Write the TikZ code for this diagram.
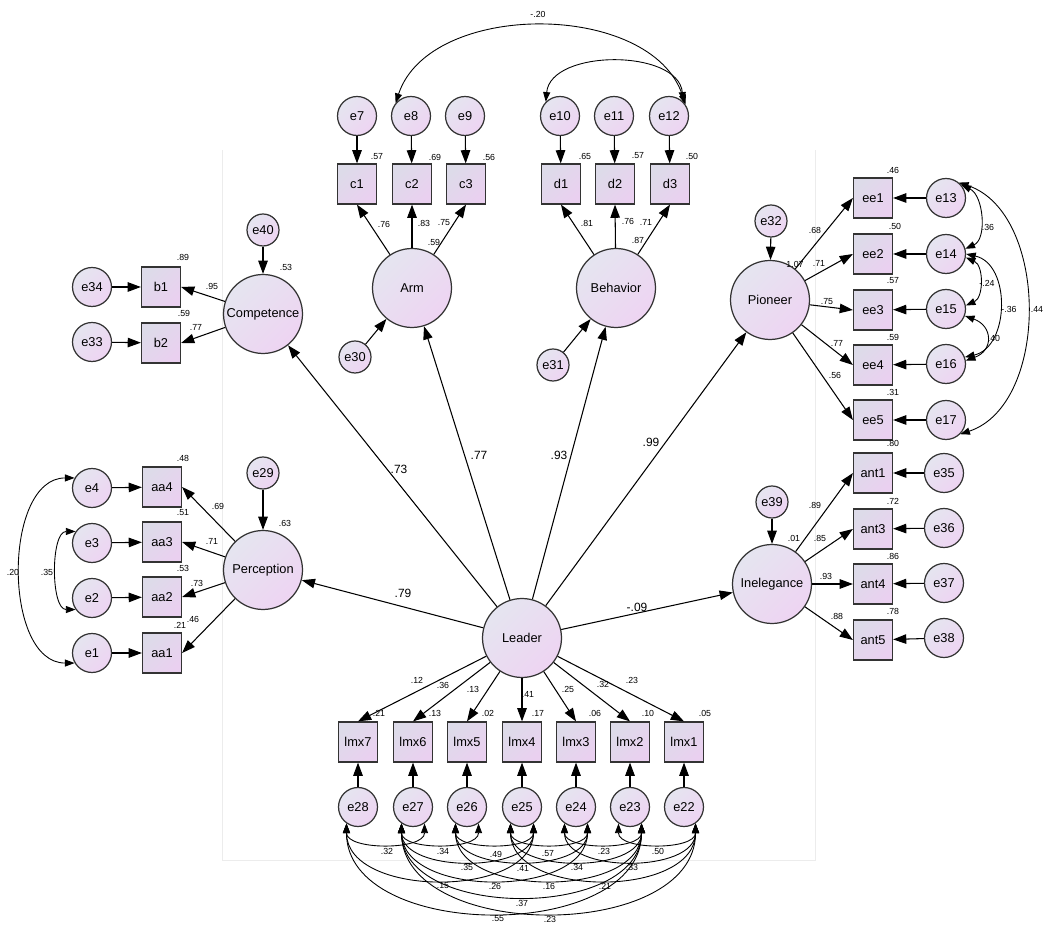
\documentclass[tikz,border=0pt]{standalone}
\usepackage{fontspec}
\setmainfont{Liberation Sans}
\usetikzlibrary{arrows.meta}
\definecolor{fillA}{RGB}{229,229,240}
\definecolor{fillB}{RGB}{238,212,242}
\definecolor{boxA}{RGB}{221,219,233}
\definecolor{boxB}{RGB}{234,208,240}
\tikzset{
  latent/.style={circle,draw=black!80,line width=0.7pt,minimum size=1.58cm,inner sep=0pt,top color=fillA,bottom color=fillB,shading angle=45},
  err/.style={circle,draw=black!80,line width=0.7pt,minimum size=0.78cm,inner sep=0pt,top color=fillA,bottom color=fillB,shading angle=45},
  serr/.style={err,minimum size=0.64cm},
  obs/.style={rectangle,draw=black!80,line width=0.7pt,minimum width=0.78cm,minimum height=0.8cm,inner sep=0pt,top color=boxA,bottom color=boxB,shading angle=45},
  path/.style={-{Triangle[length=7.5pt,width=5.4pt]},line width=0.6pt},
  corr/.style={{Triangle[length=5.5pt,width=4pt]}-{Triangle[length=5.5pt,width=4pt]},line width=0.5pt},
  lbl/.style={font=\fontsize{5}{6}\selectfont,inner sep=0pt},
  blbl/.style={font=\fontsize{6.8}{7}\selectfont,inner sep=0pt}
}
\begin{document}
\begin{tikzpicture}[x=0.02cm,y=-0.02cm,every node/.style={font=\fontsize{7.3}{8}\selectfont}]
\useasboundingbox (0,0) rectangle (1045,925);

%frame
\draw[gray!15] (222,150) -- (222,860) -- (815,860) -- (815,150);

%Arm
\node[err] (e7) at (357,116) {e7};
\node[err] (e8) at (411,116) {e8};
\node[err] (e9) at (465,116) {e9};
\node[obs] (c1) at (357,184) {c1};
\node[obs] (c2) at (412,184) {c2};
\node[obs] (c3) at (466,184) {c3};
\node[latent] (Arm) at (412,288) {Arm};
\node[serr] (e30) at (355,357) {e30};
\draw[path] (e7) -- (c1);
\draw[path] (e8) -- (c2);
\draw[path] (e9) -- (c3);
\draw[path] (Arm) -- (c1.south);
\draw[path] (Arm) -- (c2.south);
\draw[path] (Arm) -- (c3.south);
\draw[path] (e30) -- (Arm);
\node[lbl] (rc1) at (377,157) {.57};
\node[lbl] (rc2) at (435,157) {.69};
\node[lbl] (rc3) at (489,157) {.56};
\node[lbl] (lc1) at (384,224) {.76};
\node[lbl] (lc2) at (424,223) {.83};
\node[lbl] (lc3) at (444,223) {.75};
\node[lbl] (rArm) at (434,242) {.59};

%Behavior
\node[err] (e10) at (560,116) {e10};
\node[err] (e11) at (614,116) {e11};
\node[err] (e12) at (669,116) {e12};
\node[obs] (d1) at (561,184) {d1};
\node[obs] (d2) at (615,184) {d2};
\node[obs] (d3) at (670,184) {d3};
\node[latent] (Behavior) at (616,288) {Behavior};
\node[serr] (e31) at (553,365) {e31};
\draw[path] (e10) -- (d1);
\draw[path] (e11) -- (d2);
\draw[path] (e12) -- (d3);
\draw[path] (Behavior) -- (d1.south);
\draw[path] (Behavior) -- (d2.south);
\draw[path] (Behavior) -- (d3.south);
\draw[path] (e31) -- (Behavior);
\node[lbl] (rd1) at (585,156) {.65};
\node[lbl] (rd2) at (638,156) {.57};
\node[lbl] (rd3) at (692,156) {.50};
\node[lbl] (ld1) at (587,223) {.81};
\node[lbl] (ld2) at (628,221) {.76};
\node[lbl] (ld3) at (646,222) {.71};
\node[lbl] (rBeh) at (638,240) {.87};

%top correlations
\draw[corr] (e8.140) .. controls +(34,-103) and +(-34,-104) .. (e12.35);
\draw[corr] (e10.135) .. controls +(5,-53) and +(-5,-53) .. (e12.45);
\node[lbl] (k812) at (538,14) {-.20};

%Competence
\node[latent] (Competence) at (263,314) {Competence};
\node[serr] (e40) at (263,230) {e40};
\node[obs] (b1) at (161,287) {b1};
\node[obs] (b2) at (161,343) {b2};
\node[err] (e34) at (92,287) {e34};
\node[err] (e33) at (92,342) {e33};
\draw[path] (e40) -- (Competence);
\draw[path] (Competence) -- (b1.east);
\draw[path] (Competence) -- (b2.east);
\draw[path] (e34) -- (b1);
\draw[path] (e33) -- (b2);
\node[lbl] (rb1) at (183,257) {.89};
\node[lbl] (lb1) at (212,286) {.95};
\node[lbl] (rb2) at (184,313) {.59};
\node[lbl] (lb2) at (196,327) {.77};
\node[lbl] (rCom) at (286,267) {.53};

%Perception
\node[latent] (Perception) at (263,570) {Perception};
\node[serr] (e29) at (263,473) {e29};
\node[obs] (aa4) at (162,487) {aa4};
\node[obs] (aa3) at (162,542) {aa3};
\node[obs] (aa2) at (162,597) {aa2};
\node[obs] (aa1) at (162,653) {aa1};
\node[err] (e4) at (92,488) {e4};
\node[err] (e3) at (92,543) {e3};
\node[err] (e2) at (92,598) {e2};
\node[err] (e1) at (92,653) {e1};
\draw[path] (e29) -- (Perception);
\draw[path] (Perception) -- (aa4.east);
\draw[path] (Perception) -- (aa3.east);
\draw[path] (Perception) -- (aa2.east);
\draw[path] (Perception) -- (aa1.east);
\draw[path] (e4) -- (aa4);
\draw[path] (e3) -- (aa3);
\draw[path] (e2) -- (aa2);
\draw[path] (e1) -- (aa1);
\draw[corr] (e4.150) .. controls +(-72,0) and +(-72,0) .. (e1.-150);
\draw[corr] (e3.145) .. controls +(-25,0) and +(-25,0) .. (e2.-145);
\node[lbl] (raa4) at (183,458) {.48};
\node[lbl] (laa4) at (218,506) {.69};
\node[lbl] (raa3) at (183,513) {.51};
\node[lbl] (rPer) at (285,523) {.63};
\node[lbl] (laa3) at (212,541) {.71};
\node[lbl] (raa2) at (183,568) {.53};
\node[lbl] (laa2) at (197,583) {.73};
\node[lbl] (raa1) at (180,625) {.21};
\node[lbl] (laa1) at (193,619) {.46};
\node[lbl] (k41) at (13,572) {.20};
\node[lbl] (k32) at (47,572) {.35};

%Pioneer
\node[latent] (Pioneer) at (770,300) {Pioneer};
\node[serr] (e32) at (771,221) {e32};
\node[obs] (ee1) at (873,198) {ee1};
\node[obs] (ee2) at (873,254) {ee2};
\node[obs] (ee3) at (873,310) {ee3};
\node[obs] (ee4) at (873,365) {ee4};
\node[obs] (ee5) at (873,420) {ee5};
\node[err] (e13) at (946,198) {e13};
\node[err] (e14) at (946,254) {e14};
\node[err] (e15) at (946,309) {e15};
\node[err] (e16) at (946,364) {e16};
\node[err] (e17) at (946,420) {e17};
\draw[path] (e32) -- (Pioneer);
\draw[path] (Pioneer) -- (ee1.west);
\draw[path] (Pioneer) -- (ee2.west);
\draw[path] (Pioneer) -- (ee3.west);
\draw[path] (Pioneer) -- (ee4.west);
\draw[path] (Pioneer) -- (ee5.west);
\draw[path] (e13) -- (ee1);
\draw[path] (e14) -- (ee2);
\draw[path] (e15) -- (ee3);
\draw[path] (e16) -- (ee4);
\draw[path] (e17) -- (ee5);
\draw[corr] (e13.40) .. controls +(22,10) and +(22,-10) .. (e14.15);
\draw[corr] (e14.-10) .. controls +(18,8) and +(18,-8) .. (e15.10);
\draw[corr] (e14.0) .. controls +(45,10) and +(45,-10) .. (e16.20);
\draw[corr] (e15.-20) .. controls +(28,10) and +(28,-10) .. (e16.10);
\draw[corr] (e13.50) .. controls +(90,30) and +(90,-30) .. (e17.-45);
\node[lbl] (ree1) at (893,170) {.46};
\node[lbl] (lee1) at (815,230) {.68};
\node[lbl] (ree2) at (895,226) {.50};
\node[lbl] (rPio) at (795,264) {1.07};
\node[lbl] (lee2) at (819,263) {.71};
\node[lbl] (ree3) at (893,281) {.57};
\node[lbl] (lee3) at (827,302) {.75};
\node[lbl] (ree4) at (893,337) {.59};
\node[lbl] (lee4) at (837,343) {.77};
\node[lbl] (lee5) at (835,375) {.56};
\node[lbl] (ree5) at (893,392) {.31};
\node[lbl] (k1314) at (988,227) {.36};
\node[lbl] (k1415) at (987,283) {-.24};
\node[lbl] (k1416) at (1009,309) {-.36};
\node[lbl] (k1516) at (994,338) {.40};
\node[lbl] (k1317) at (1037,309) {.44};

%Inelegance
\node[latent] (Inelegance) at (772,584) {Inelegance};
\node[serr] (e39) at (772,502) {e39};
\node[obs] (ant1) at (873,473) {ant1};
\node[obs] (ant3) at (873,529) {ant3};
\node[obs] (ant4) at (873,584) {ant4};
\node[obs] (ant5) at (873,640) {ant5};
\node[err] (e35) at (944,473) {e35};
\node[err] (e36) at (944,528) {e36};
\node[err] (e37) at (944,583) {e37};
\node[err] (e38) at (944,638) {e38};
\draw[path] (e39) -- (Inelegance);
\draw[path] (Inelegance) -- (ant1.west);
\draw[path] (Inelegance) -- (ant3.west);
\draw[path] (Inelegance) -- (ant4.west);
\draw[path] (Inelegance) -- (ant5.west);
\draw[path] (e35) -- (ant1);
\draw[path] (e36) -- (ant3);
\draw[path] (e37) -- (ant4);
\draw[path] (e38) -- (ant5);
\node[lbl] (rant1) at (893,443) {.80};
\node[lbl] (lant1) at (815,505) {.89};
\node[lbl] (rant3) at (893,501) {.72};
\node[lbl] (rIne) at (794,538) {.01};
\node[lbl] (lant3) at (820,538) {.85};
\node[lbl] (rant4) at (893,556) {.86};
\node[lbl] (lant4) at (826,576) {.93};
\node[lbl] (rant5) at (893,611) {.78};
\node[lbl] (lant5) at (837,616) {.88};

%Leader
\node[latent] (Leader) at (522,638) {Leader};
\draw[path] (Leader) -- (Competence);
\draw[path] (Leader) -- (Arm);
\draw[path] (Leader) -- (Behavior);
\draw[path] (Leader) -- (Pioneer);
\draw[path] (Leader) -- (Perception);
\draw[path] (Leader) -- (Inelegance);
\node[blbl] (lCom) at (399,469) {.73};
\node[blbl] (lArm) at (479,455) {.77};
\node[blbl] (lBeh) at (559,455) {.93};
\node[blbl] (lPio) at (651,442) {.99};
\node[blbl] (lPer) at (403,593) {.79};
\node[blbl] (lIne) at (637,607) {-.09};

%lmx
\node[obs] (lmx7) at (358,742) {lmx7};
\node[obs] (lmx6) at (413,742) {lmx6};
\node[obs] (lmx5) at (467,742) {lmx5};
\node[obs] (lmx4) at (522,742) {lmx4};
\node[obs] (lmx3) at (576,742) {lmx3};
\node[obs] (lmx2) at (630,742) {lmx2};
\node[obs] (lmx1) at (684,742) {lmx1};
\node[err] (e28) at (358,807) {e28};
\node[err] (e27) at (413,807) {e27};
\node[err] (e26) at (467,807) {e26};
\node[err] (e25) at (522,807) {e25};
\node[err] (e24) at (576,807) {e24};
\node[err] (e23) at (630,807) {e23};
\node[err] (e22) at (684,807) {e22};
\draw[path] (Leader) -- (lmx7.north);
\draw[path] (Leader) -- (lmx6.north);
\draw[path] (Leader) -- (lmx5.north);
\draw[path] (Leader) -- (lmx4.north);
\draw[path] (Leader) -- (lmx3.north);
\draw[path] (Leader) -- (lmx2.north);
\draw[path] (Leader) -- (lmx1.north);
\draw[path] (e28) -- (lmx7);
\draw[path] (e27) -- (lmx6);
\draw[path] (e26) -- (lmx5);
\draw[path] (e25) -- (lmx4);
\draw[path] (e24) -- (lmx3);
\draw[path] (e23) -- (lmx2);
\draw[path] (e22) -- (lmx1);
\node[lbl] (llmx7) at (417,680) {.12};
\node[lbl] (llmx6) at (443,685) {.36};
\node[lbl] (llmx5) at (473,689) {.13};
\node[lbl] (llmx4) at (528,694) {.41};
\node[lbl] (llmx3) at (568,689) {.25};
\node[lbl] (llmx2) at (603,684) {.32};
\node[lbl] (llmx1) at (632,680) {.23};
\node[lbl] (rlmx7) at (379,713) {.21};
\node[lbl] (rlmx6) at (435,713) {.13};
\node[lbl] (rlmx5) at (488,713) {.02};
\node[lbl] (rlmx4) at (538,713) {.17};
\node[lbl] (rlmx3) at (595,713) {.06};
\node[lbl] (rlmx2) at (648,713) {.10};
\node[lbl] (rlmx1) at (705,713) {.05};

%bottom correlations
\draw[corr] (e28.-125) .. controls +(0,27) and +(0,27) .. (e27.-55);
\draw[corr] (e27.-125) .. controls +(0,27) and +(0,27) .. (e26.-55);
\draw[corr] (e26.-125) .. controls +(0,27) and +(0,27) .. (e25.-55);
\draw[corr] (e25.-125) .. controls +(0,27) and +(0,27) .. (e24.-55);
\draw[corr] (e24.-125) .. controls +(0,27) and +(0,27) .. (e23.-55);
\draw[corr] (e23.-125) .. controls +(0,27) and +(0,27) .. (e22.-55);
\draw[corr] (e27.-125) .. controls +(0,50) and +(0,50) .. (e25.-55);
\draw[corr] (e26.-125) .. controls +(0,50) and +(0,50) .. (e24.-55);
\draw[corr] (e25.-125) .. controls +(0,50) and +(0,50) .. (e23.-55);
\draw[corr] (e24.-125) .. controls +(0,50) and +(0,50) .. (e22.-55);
\draw[corr] (e28.-125) .. controls +(0,75) and +(0,75) .. (e25.-55);
\draw[corr] (e27.-125) .. controls +(0,75) and +(0,75) .. (e24.-55);
\draw[corr] (e26.-125) .. controls +(0,75) and +(0,75) .. (e23.-55);
\draw[corr] (e25.-125) .. controls +(0,75) and +(0,75) .. (e22.-55);
\draw[corr] (e27.-125) .. controls +(0,97) and +(0,97) .. (e23.-55);
\draw[corr] (e28.-125) .. controls +(0,119) and +(0,119) .. (e23.-55);
\draw[corr] (e27.-125) .. controls +(0,119) and +(0,119) .. (e22.-55);
\node[lbl] (k2827) at (387,851) {.32};
\node[lbl] (k2726) at (443,851) {.34};
\node[lbl] (k2625) at (496,854) {.49};
\node[lbl] (k2524) at (548,854) {.57};
\node[lbl] (k2423) at (604,851) {.23};
\node[lbl] (k2322) at (658,851) {.50};
\node[lbl] (k2725) at (467,867) {.35};
\node[lbl] (k2624) at (523,868) {.41};
\node[lbl] (k2523) at (577,867) {.34};
\node[lbl] (k2422) at (632,867) {.33};
\node[lbl] (k2825) at (443,886) {.15};
\node[lbl] (k2724) at (495,886) {.26};
\node[lbl] (k2623) at (549,886) {.16};
\node[lbl] (k2522) at (605,886) {.21};
\node[lbl] (k2723) at (522,903) {.37};
\node[lbl] (k2823) at (498,919) {.55};
\node[lbl] (k2722) at (550,919) {.23};
\end{tikzpicture}
\end{document}
